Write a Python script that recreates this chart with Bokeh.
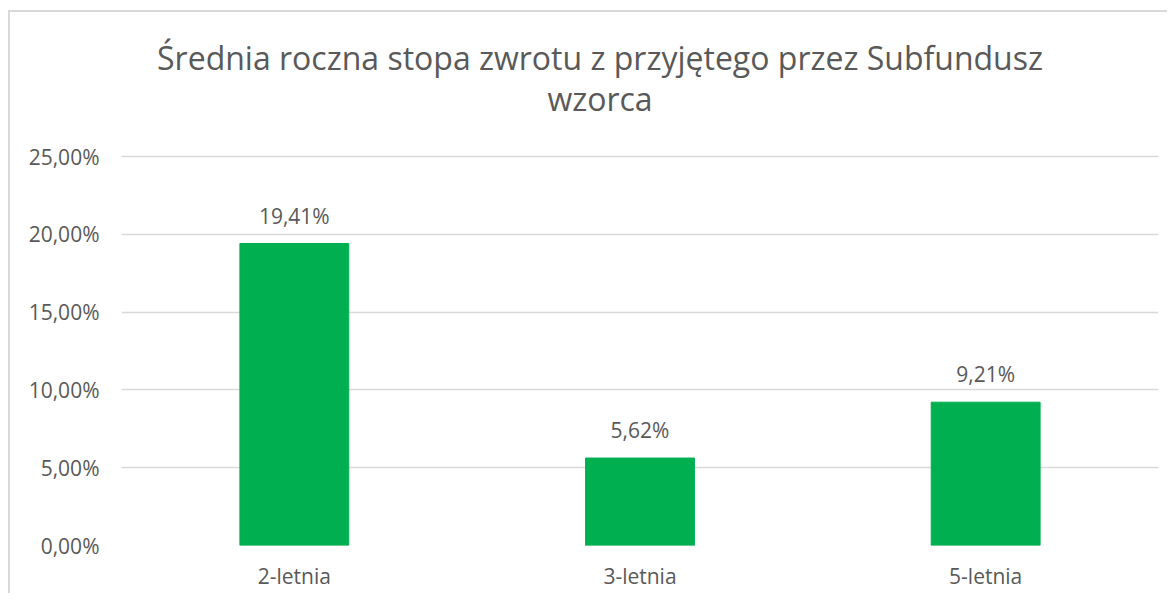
from bokeh.plotting import figure
from bokeh.models import ColumnDataSource, FactorRange, FixedTicker, Label, LabelSet
from bokeh.core.properties import value
from bokeh.embed import file_html
from bokeh.resources import INLINE

title_lines = ["Średnia roczna stopa zwrotu z przyjętego przez Subfundusz", "wzorca"]
categories = ["2-letnia", "3-letnia", "5-letnia"]
values = [19.41, 5.62, 9.21]
value_labels = ["19,41%", "5,62%", "9,21%"]
y_ticks = [0, 5, 10, 15, 20, 25]
y_tick_labels = ["0,00%", "5,00%", "10,00%", "15,00%", "20,00%", "25,00%"]

TEXT = "#595959"
GRID = "#d9d9d9"
FONT = "Open Sans"

src = ColumnDataSource(dict(cat=categories, val=values, lab=value_labels))

# frame extends above the 25% line so the two-line title can sit inside it
p = figure(width=1167, height=593, x_range=FactorRange(*categories), y_range=(0, 33.1),
           output_backend="svg", toolbar_location=None, tools="",
           min_border_left=121, min_border_right=9, min_border_top=30, min_border_bottom=48)
p.outline_line_color = None
p.background_fill_color = "white"
p.border_fill_alpha = 0
# chart-area border (top and left edges) painted behind the transparent border area
p.styles = {
    "background": ("linear-gradient(#d9d9d9,#d9d9d9) 8px 10px / 2px 100% no-repeat, "
                   "linear-gradient(#d9d9d9,#d9d9d9) 8px 10px / 100% 2px no-repeat, white"),
}

p.vbar(x="cat", top="val", width=0.315, source=src, color="#00B050")

p.add_layout(LabelSet(x="cat", y="val", text="lab", source=src, text_align="center",
                      text_baseline="alphabetic", y_offset=20, text_color=TEXT,
                      text_font=value(FONT), text_font_size="21px"))

# y axis
p.yaxis.ticker = FixedTicker(ticks=y_ticks)
p.yaxis.major_label_overrides = {t: l for t, l in zip(y_ticks, y_tick_labels)}
p.yaxis.axis_line_color = None
p.yaxis.major_tick_line_color = None
p.yaxis.minor_tick_line_color = None
p.yaxis.major_tick_out = 0
p.yaxis.major_label_standoff = 22
p.yaxis.major_label_text_color = TEXT
p.yaxis.major_label_text_font = FONT
p.yaxis.major_label_text_font_size = "21px"

# x axis
p.xaxis.axis_line_color = None
p.xaxis.major_tick_line_color = None
p.xaxis.major_tick_out = 0
p.xaxis.major_label_standoff = 16
p.xaxis.major_label_text_color = TEXT
p.xaxis.major_label_text_font = FONT
p.xaxis.major_label_text_font_size = "21px"

p.xgrid.grid_line_color = None
p.ygrid.grid_line_color = GRID
p.ygrid.grid_line_width = 1.5

for txt, yv in zip(title_lines, [31.37, 28.74]):
    p.add_layout(Label(x=478.5, x_units="screen", y=yv, y_units="data", text=txt,
                       text_align="center", text_baseline="alphabetic", text_color=TEXT,
                       text_font=FONT, text_font_size="32px"))

open("out.html", "w").write(file_html(p, INLINE))
